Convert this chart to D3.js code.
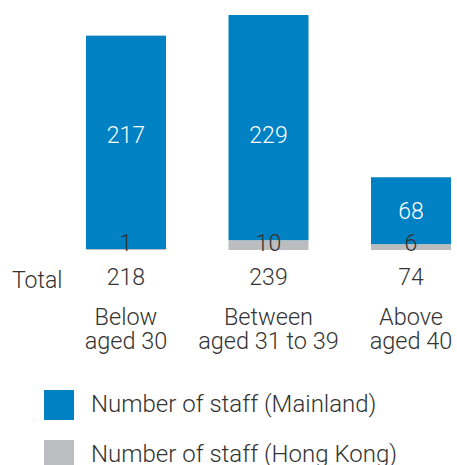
<!DOCTYPE html>
<html>
<head>
<meta charset="utf-8">
<script src="https://cdn.jsdelivr.net/npm/d3@7"></script>
<style>
  body { margin: 0; background: #fff; }
  text { font-family: Roboto, "Liberation Sans", sans-serif; font-weight: 300; }
</style>
</head>
<body>
<div id="container"></div>
<script>
/* CONSTANTS AND GLOBALS */
const width = 457,
  height = 465

const categories = [["Below", "aged 30"], ["Between", "aged 31 to 39"], ["Above", "aged 40"]]
const mainland = [217, 229, 68]
const hongKong = [1, 10, 6]
const totals = [218, 239, 74]
const legendLabels = ["Number of staff (Mainland)", "Number of staff (Hong Kong)"]

const blue = "#0081c4",
  grey = "#bcbdc0",
  ink = "#333333"

const data = categories.map((c, i) => ({
  key: c.join(" "), lines: c, mainland: mainland[i], hk: hongKong[i], total: totals[i]
}))

/* SCALES */
const xScale = d3.scaleBand()
  .domain(data.map(d => d.key))
  .range([86, 451])
  .paddingInner(0.4386)
  .paddingOuter(0)

const yScale = d3.scaleLinear()
  .domain([0, d3.max(data, d => d.total)])
  .range([250, 15])

/* HTML ELEMENTS */
const svg = d3.select("#container")
  .append("svg")
  .attr("width", width)
  .attr("height", height)

// hong kong segment (bottom)
svg.selectAll("rect.hk")
  .data(data)
  .join("rect")
  .attr("class", "hk")
  .attr("x", d => xScale(d.key))
  .attr("width", xScale.bandwidth())
  .attr("y", d => yScale(d.hk))
  .attr("height", d => yScale(0) - yScale(d.hk))
  .style("fill", grey)

// mainland segment on top
svg.selectAll("rect.mainland")
  .data(data)
  .join("rect")
  .attr("class", "mainland")
  .attr("x", d => xScale(d.key))
  .attr("width", xScale.bandwidth())
  .attr("y", d => yScale(d.hk + d.mainland))
  .attr("height", d => yScale(d.hk) - yScale(d.hk + d.mainland))
  .style("fill", blue)

const cx = d => xScale(d.key) + xScale.bandwidth() / 2

// value labels inside the blue bars
svg.selectAll("text.mainland")
  .data(data)
  .join("text")
  .attr("class", "mainland")
  .attr("x", cx)
  .attr("y", d => {
    const mid = (yScale(d.hk) + yScale(d.hk + d.mainland)) / 2
    return (yScale(d.hk) - yScale(d.total) > 150 ? yScale(117) : mid) + 8
  })
  .attr("text-anchor", "middle")
  .style("font-size", "23px")
  .style("fill", "#ffffff")
  .text(d => d.mainland)

svg.selectAll("text.hk")
  .data(data)
  .join("text")
  .attr("class", "hk")
  .attr("x", cx)
  .attr("y", yScale(0) + 1)
  .attr("text-anchor", "middle")
  .style("font-size", "23px")
  .style("fill", ink)
  .text(d => d.hk)

// totals row
svg.append("text")
  .attr("x", 12)
  .attr("y", 288)
  .style("font-size", "23px")
  .style("fill", ink)
  .text("Total")

svg.selectAll("text.total")
  .data(data)
  .join("text")
  .attr("class", "total")
  .attr("x", cx)
  .attr("y", 285)
  .attr("text-anchor", "middle")
  .style("font-size", "23px")
  .style("fill", ink)
  .text(d => d.total)

// category labels, two lines each
const catLines = data.flatMap(d => d.lines.map((line, i) => ({ d, line, i })))

svg.selectAll("text.cat")
  .data(catLines)
  .join("text")
  .attr("class", "cat")
  .attr("x", l => cx(l.d))
  .attr("y", l => 325 + l.i * 23.5)
  .attr("text-anchor", "middle")
  .style("font-size", "23.5px")
  .style("fill", ink)
  .text(l => l.line)

// legend
const legend = svg.selectAll("g.legend")
  .data(legendLabels)
  .join("g")
  .attr("class", "legend")
  .attr("transform", (d, i) => `translate(44,${390 + i * 50})`)

legend.append("rect")
  .attr("width", 30)
  .attr("height", 30)
  .style("fill", (d, i) => i ? grey : blue)

legend.append("text")
  .attr("x", 47)
  .attr("y", 22)
  .style("font-size", "24px")
  .style("fill", ink)
  .text(d => d)
</script>
</body>
</html>
